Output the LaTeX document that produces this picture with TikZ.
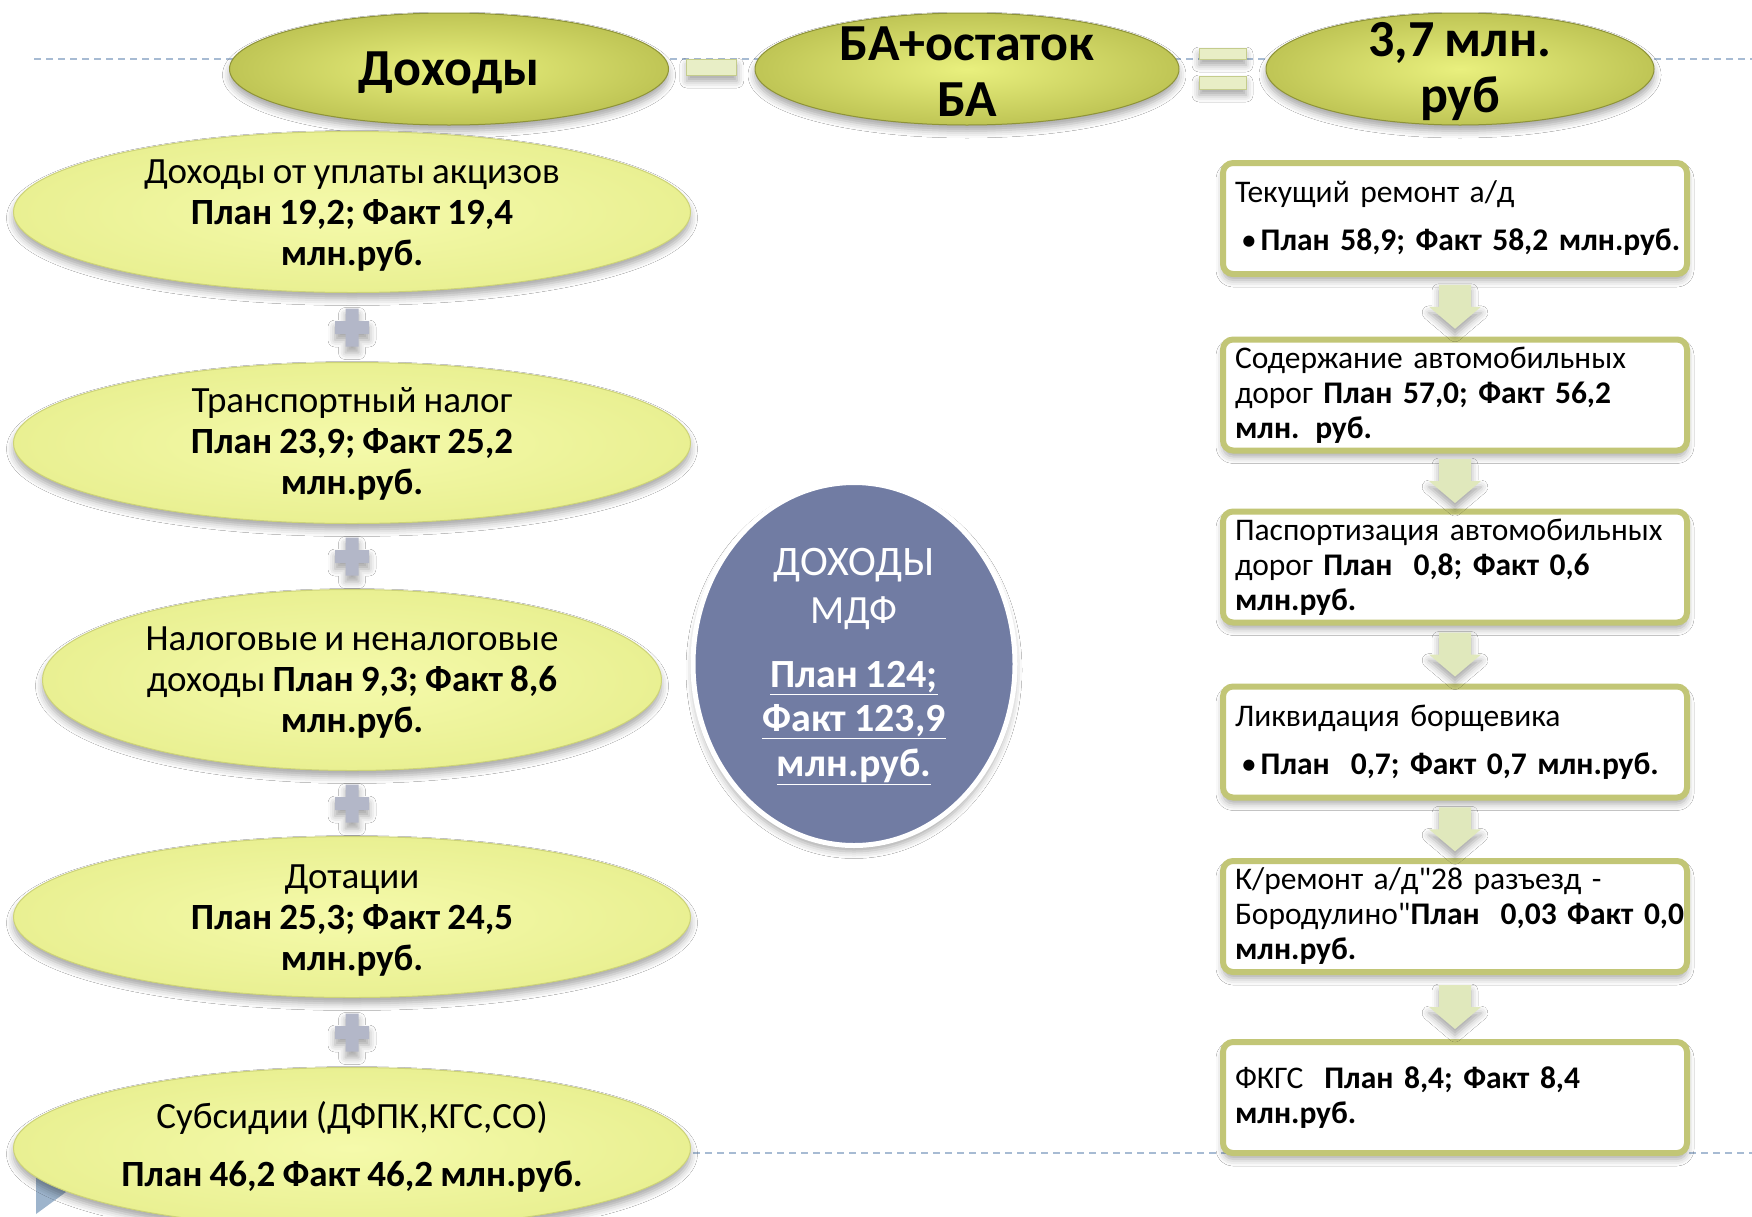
\documentclass[tikz,border=0pt]{standalone}
\usepackage{fontspec}
\setmainfont{Carlito}[Ligatures=TeXOff]
\newfontfamily\boxfont{Carlito}[Ligatures=TeXOff,WordSpace=0.85]
\usetikzlibrary{shapes.geometric,shadows.blur,calc}
\definecolor{dashc}{HTML}{A7BBD3}
\definecolor{topin}{HTML}{E9F07E}
\definecolor{topout}{HTML}{BFC555}
\definecolor{topdraw}{HTML}{8E9338}
\definecolor{leftin}{HTML}{F5FAAB}
\definecolor{leftout}{HTML}{E9F092}
\definecolor{leftdraw}{HTML}{CDD378}
\definecolor{boxdraw}{HTML}{C2C676}
\definecolor{arrowc}{HTML}{E0E8BC}
\definecolor{plusc}{HTML}{B3B7C8}
\definecolor{signfill}{HTML}{E8EEC6}
\definecolor{signdraw}{HTML}{C4CC8C}
\definecolor{circfill}{HTML}{717CA3}
\definecolor{trifill}{HTML}{9DB4CC}
\begin{document}
\begin{tikzpicture}[x=1pt,y=-1pt,
  shadowstyle/.style={blur shadow={shadow xshift=0pt,shadow yshift=-6pt,shadow blur radius=7pt,shadow opacity=35}},
  topell/.style={ellipse,inner sep=0pt,shadowstyle,inner color=topin,outer color=topout,draw=topdraw,line width=1pt},
  leftell/.style={ellipse,inner sep=0pt,shadowstyle,inner color=leftin,outer color=leftout,draw=leftdraw,line width=1pt},
  toptext/.style={align=center,inner sep=0pt,font=\fontsize{52}{56}\selectfont\bfseries},
  lefttext/.style={align=center,inner sep=0pt,font=\fontsize{37}{41}\selectfont},
  rbox/.style={draw=boxdraw,line width=6pt,rounded corners=10pt,fill=white,shadowstyle,
     minimum width=464pt,minimum height=111pt,text width=440pt,inner xsep=12pt,align=left,
     font=\boxfont\fontsize{31.5}{35}\selectfont},
  sign/.style={fill=signfill,draw=signdraw,line width=1pt,shadowstyle},
  dashline/.style={draw=dashc,line width=2pt,dash pattern=on 7pt off 5pt},
  blockarrow/.pic={\fill[arrowc,shadowstyle] (-16,-22) -- (16,-22) -- (16,0) -- (26,0) -- (0,22) -- (-26,0) -- (-16,0) -- cycle;},
  plussign/.pic={\fill[plusc,shadowstyle] (-6.5,-19) -- (6.5,-19) -- (6.5,-6.5) -- (17,-6.5) -- (17,6.5) -- (6.5,6.5) -- (6.5,19) -- (-6.5,19) -- (-6.5,6.5) -- (-17,6.5) -- (-17,-6.5) -- (-6.5,-6.5) -- cycle;}
]
\fill[white] (0,0) rectangle (1752,1216);
\useasboundingbox (0,0) rectangle (1752,1216);

% dashed guide lines
\coordinate (dl1) at (34,59);
\coordinate (dr1) at (1752,59);
\coordinate (dl2) at (693,1153);
\coordinate (dr2) at (1752,1153);
\draw[dashline] (dl1) -- (dr1);
\draw[dashline] (dl2) -- (dr2);

% small triangle bottom left
\fill[trifill] (36,1170) -- (66,1192) -- (36,1214) -- cycle;

% top row
\node[topell,minimum width=439pt,minimum height=112pt] (t1) at (449,69) {};
\node[topell,minimum width=424pt,minimum height=112pt] (t2) at (967,69) {};
\node[topell,minimum width=388pt,minimum height=112pt] (t3) at (1460,69) {};
\node[toptext] (t1t) at ($(t1)+(0,4)$) {Доходы};
\node[toptext] (t2t) at ($(t2)+(0,3)$) {БА+остаток\\БА};
\node[toptext] (t3t) at ($(t3)+(0,3)$) {3,7 млн.\\руб};

\coordinate (mc) at ($(t1.east)!0.5!(t2.west)$);
\node[sign,minimum width=50pt,minimum height=16pt,inner sep=0pt] (minus) at ($(mc)+(0,-2)$) {};
\coordinate (ec) at ($(t2.east)!0.5!(t3.west)$);
\node[sign,minimum width=47pt,minimum height=11pt,inner sep=0pt] (eqa) at ($(ec)+(0,-15.5)$) {};
\node[sign,minimum width=47pt,minimum height=13pt,inner sep=0pt] (eqb) at ($(ec)+(0,13.5)$) {};

% left column
\node[leftell,minimum width=677pt,minimum height=161pt] (e1) at (352,212) {};
\node[leftell,minimum width=677pt,minimum height=161pt] (e2) at (352,443) {};
\node[leftell,minimum width=619pt,minimum height=181pt] (e3) at (352,680) {};
\node[leftell,minimum width=677pt,minimum height=161pt] (e4) at (352,917) {};
\node[leftell,minimum width=677pt,minimum height=161pt] (e5) at (352,1148) {};

\node[lefttext] (e1t) at (352,215.5) {Доходы от уплаты акцизов\\\textbf{План 19,2; Факт 19,4}\\\textbf{млн.руб.}};
\node[lefttext] (e2t) at (352,443.5) {Транспортный налог\\\textbf{План 23,9; Факт 25,2}\\\textbf{млн.руб.}};
\node[lefttext] (e3t) at (352,682.5) {Налоговые и неналоговые\\доходы \textbf{План 9,3; Факт 8,6}\\\textbf{млн.руб.}};
\node[lefttext] (e4t) at (352,920.5) {Дотации\\\textbf{План 25,3; Факт 24,5}\\\textbf{млн.руб.}};
\node[lefttext] (e5t) at (352,1146.5) {Субсидии (ДФПК,КГС,СО)\\[17pt]\textbf{План 46,2 Факт 46,2 млн.руб.}};

\pic at ($(e1.south)!0.5!(e2.north)$) {plussign};
\pic at ($(e2.south)!0.5!(e3.north)$) {plussign};
\pic at ($(e3.south)!0.5!(e4.north)$) {plussign};
\pic at ($(e4.south)!0.5!(e5.north)$) {plussign};

% centre circle
\node[ellipse,fill=circfill,draw=white,line width=5pt,shadowstyle,minimum width=322pt,minimum height=363pt,
  inner sep=0pt] (mdf) at (854,664) {};
\node[align=center,text=white,inner sep=0pt,font=\fontsize{40}{48}\selectfont] (mdft) at ($(mdf)+(0,2.5)$)
  {{\fontsize{42}{48}\selectfont ДОХОДЫ}\\МДФ\\[16pt]\textbf{\underline{План 124;}}\\[-4pt]\textbf{\underline{Факт 123,9}}\\[-3pt]\textbf{\underline{млн.руб.}}};

% right column
\node[rbox] (b1) at (1455,218.5) {Текущий ремонт а/д\\[13pt]\mbox{\hspace*{6pt}\textbullet\hspace{4pt}\textbf{План 58,9; Факт 58,2 млн.руб.}}};
\node[rbox] (b2) at (1455,395) {Содержание автомобильных\\дорог \textbf{План 57,0; Факт 56,2}\\\textbf{млн. руб.}};
\node[rbox] (b3) at (1455,567) {\mbox{Паспортизация автомобильных}\\дорог \textbf{План \ 0,8; Факт 0,6}\\\textbf{млн.руб.}};
\node[rbox] (b4) at (1455,742) {Ликвидация борщевика\\[13pt]\mbox{\hspace*{6pt}\textbullet\hspace{4pt}\textbf{План \ 0,7; Факт 0,7 млн.руб.}}};
\node[rbox] (b5) at (1455,916.5) {К/ремонт а/д"28 разъезд -\\\mbox{Бородулино"\textbf{План \ 0,03 Факт 0,0}}\\\textbf{млн.руб.}};
\node[rbox] (b6) at (1455,1097.5) {ФКГС \ \textbf{План 8,4; Факт 8,4}\\\textbf{млн.руб.}};

\pic at ($(b1.south)!0.5!(b2.north)$) {blockarrow};
\pic at ($(b2.south)!0.5!(b3.north)$) {blockarrow};
\pic at ($(b3.south)!0.5!(b4.north)$) {blockarrow};
\pic at ($(b4.south)!0.5!(b5.north)$) {blockarrow};
\pic at ($(b5.south)!0.5!(b6.north)$) {blockarrow};
\end{tikzpicture}
\end{document}
